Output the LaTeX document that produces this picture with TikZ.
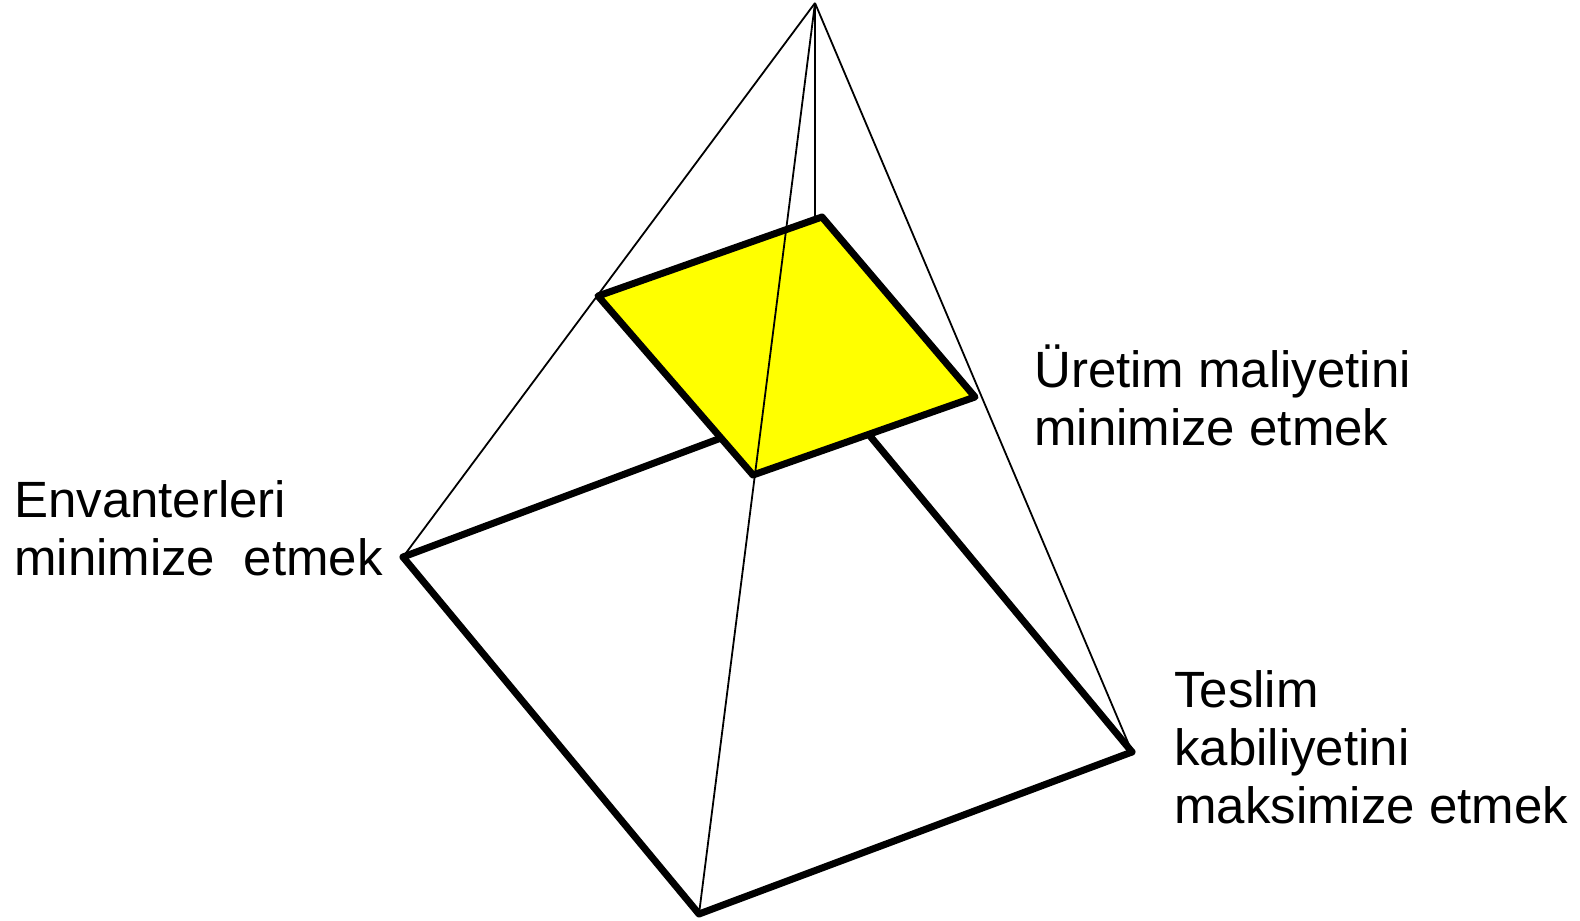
\documentclass[tikz,border=0pt]{standalone}
\usepackage{fontspec}
\setmainfont{Liberation Sans}
\definecolor{sqyellow}{RGB}{255,255,0}
\begin{document}
\begin{tikzpicture}[x=1pt,y=-1pt,
  thinline/.style={line width=1.8pt},
  thickline/.style={line width=7pt,line join=round,line cap=round},
  label/.style={anchor=base west,align=left,inner sep=0pt,font=\fontsize{51}{58}\selectfont}]
\useasboundingbox (0,0) rectangle (1580,921);
% corners
\coordinate (apex) at (815,3);
\coordinate (L) at (403,557);
\coordinate (B) at (699,914);
\coordinate (R) at (1132,752);
\coordinate (K) at (836,395);
\coordinate (sT) at (822,217);
\coordinate (sL) at (598,296);
\coordinate (sR) at (975,397);
\coordinate (sB) at (753,475);
\coordinate (vEnd) at (815,280);
% thin edges
\draw[thinline] (apex) -- (L);
\draw[thinline] (apex) -- (R);
\draw[thinline] (apex) -- (vEnd);
% base
\draw[thickline] (L) -- (B) -- (R);
\draw[thickline] (L) -- (K) -- (R);
% yellow square
\filldraw[thickline,fill=sqyellow] (sT) -- (sR) -- (sB) -- (sL) -- cycle;
\draw[thinline] (apex) -- (B);
% labels (anchor = baseline of last line)
\node[label] (t1) at (14,575) {Envanterleri\\minimize\ \ etmek};
\node[label] (t2) at (1034,445) {Üretim maliyetini\\minimize etmek};
\node[label] (t3) at (1174,823) {Teslim\\kabiliyetini\\maksimize etmek};
\end{tikzpicture}
\end{document}
